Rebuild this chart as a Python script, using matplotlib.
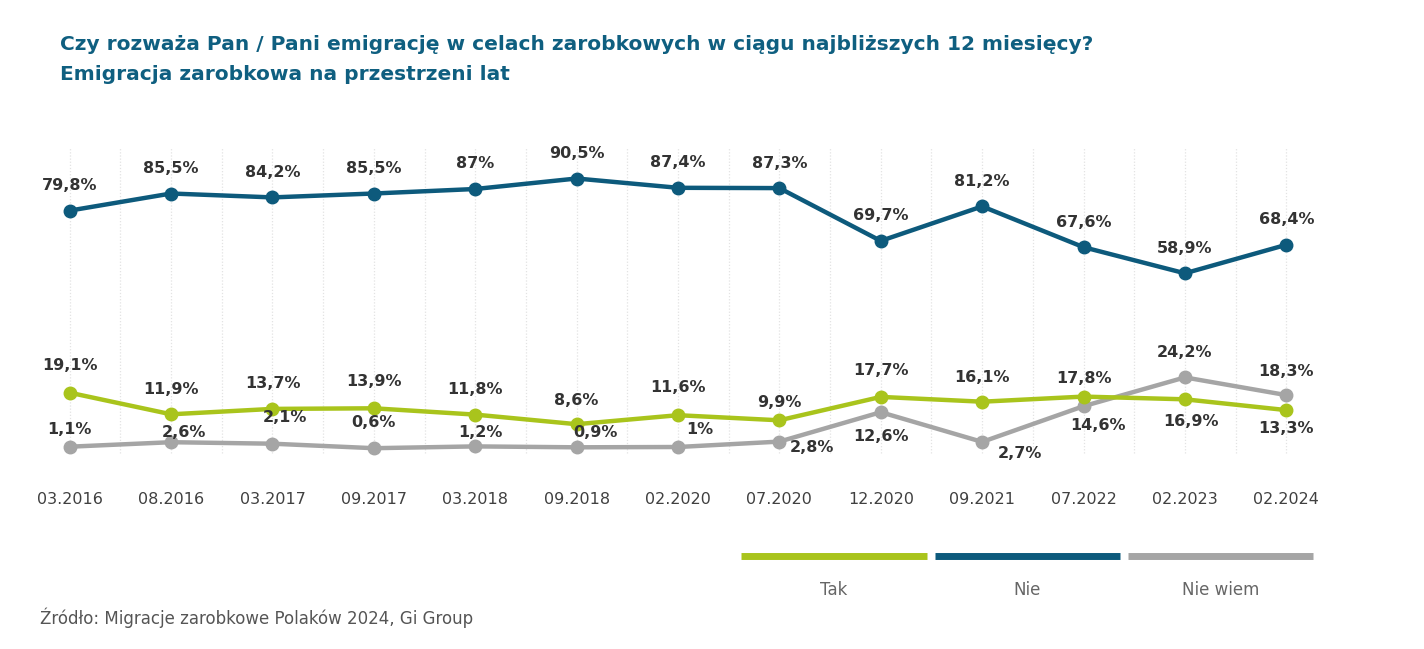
import numpy as np
import matplotlib.pyplot as plt
from matplotlib.lines import Line2D

# survey waves
periods = ["03.2016", "08.2016", "03.2017", "09.2017", "03.2018", "09.2018", "02.2020",
           "07.2020", "12.2020", "09.2021", "07.2022", "02.2023", "02.2024"]

tak = [19.1, 11.9, 13.7, 13.9, 11.8, 8.6, 11.6, 9.9, 17.7, 16.1, 17.8, 16.9, 13.3]
nie = [79.8, 85.5, 84.2, 85.5, 87.0, 90.5, 87.4, 87.3, 69.7, 81.2, 67.6, 58.9, 68.4]
nie_wiem = [1.1, 2.6, 2.1, 0.6, 1.2, 0.9, 1.0, 2.8, 12.6, 2.7, 14.6, 24.2, 18.3]

# label offsets in pixels (dx, dy) for each point
off_nie = [(0, 25)] * 13
off_tak = [(0, 27), (0, 25), (0, 25), (0, 27), (0, 25), (0, 24), (0, 28), (0, 18),
           (0, 26), (0, 24), (0, 18), (6, -22), (0, -18)]
off_nw = [(0, 17), (13, 10), (12, 26), (0, 26), (5, 14), (19, 15), (22, 17), (33, -6),
          (0, -24), (38, -12), (14, -19), (0, 25), (0, 24)]

c_tak = "#a9c41c"
c_nie = "#0d5a7c"
c_nw = "#a5a5a5"
c_title = "#0f5f80"

fig = plt.figure(figsize=(14.24, 6.49), dpi=100)
W, H = 1424, 649
ax = fig.add_axes([19 / W, (H - 450) / H, (1337 - 19) / W, 300 / H])
ax.set_xlim(-0.5, 12.5)
ax.set_ylim(0, 100)

x = np.arange(len(periods))
ax.vlines(np.arange(0, 12.01, 0.5), -1, 101, colors="#e3e3e3", linestyles=(0, (1, 1.5)),
          linewidth=0.9, zorder=0, clip_on=False)

for vals, col, offs in [(nie_wiem, c_nw, off_nw), (tak, c_tak, off_tak), (nie, c_nie, off_nie)]:
    ax.plot(x, vals, color=col, linewidth=3.2, marker="o", markersize=9, clip_on=False, zorder=3)
    for xi, v, (dx, dy) in zip(x, vals, offs):
        txt = (f"{v:g}".replace(".", ",")) + "%"
        ax.annotate(txt, (xi, v), xytext=(dx, dy), textcoords="offset pixels",
                    ha="center", va="center", fontsize=11.5, fontweight="bold",
                    color="#333333", zorder=5)

ax.set_xticks(x)
ax.set_xticklabels(periods, fontsize=11.5, color="#404040")
ax.tick_params(axis="x", length=0, pad=30)
ax.set_yticks([])
for s in ax.spines.values():
    s.set_visible(False)

# titles
fig.text(60 / W, 1 - 45 / H, "Czy rozważa Pan / Pani emigrację w celach zarobkowych w ciągu najbliższych 12 miesięcy?",
         fontsize=14.5, fontweight="bold", color=c_title, va="center", ha="left")
fig.text(60 / W, 1 - 74 / H, "Emigracja zarobkowa na przestrzeni lat",
         fontsize=14.5, fontweight="bold", color=c_title, va="center", ha="left")

# legend bars
legend_items = [("Tak", c_tak, 741, 927), ("Nie", c_nie, 935, 1120), ("Nie wiem", c_nw, 1128, 1313)]
for name, col, x0, x1 in legend_items:
    fig.add_artist(Line2D([x0 / W, x1 / W], [1 - 556 / H] * 2, color=col, linewidth=5,
                          solid_capstyle="butt"))
    fig.text((x0 + x1) / 2 / W, 1 - 590 / H, name, fontsize=12, color="#666666",
             ha="center", va="center")

fig.text(40 / W, 1 - 618 / H, "Źródło: Migracje zarobkowe Polaków 2024, Gi Group",
         fontsize=12, color="#555555", ha="left", va="center")

fig.savefig("out.png", dpi=100, facecolor="white")
